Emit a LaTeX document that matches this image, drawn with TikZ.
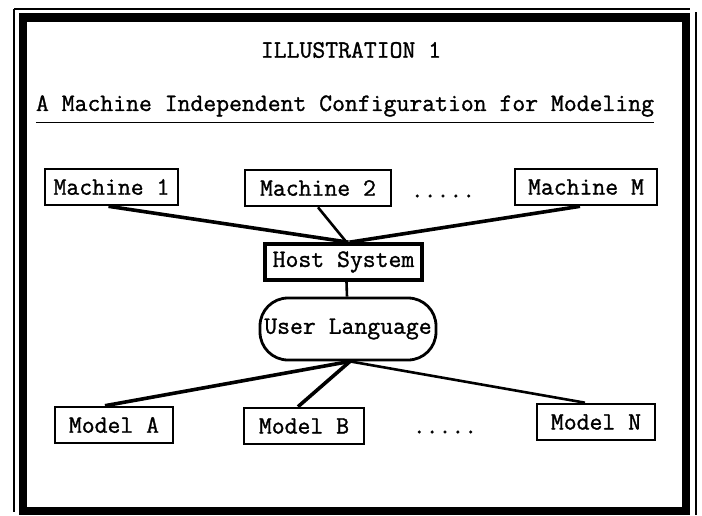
\documentclass[tikz,border=0pt]{standalone}
\usepackage{fontspec}
\newfontfamily\typew[FakeBold=1.2]{Latin Modern Mono}
\begin{document}
\begin{tikzpicture}[x=1pt,y=-1pt,
  every node/.style={font=\typew\fontsize{25}{30}\selectfont, inner sep=0pt},
  boxnode/.style={draw, line width=2.6pt, minimum height=36pt},
  link/.style={line width=3.6pt},
  thinlink/.style={line width=2.6pt}]
\useasboundingbox (0,0) rectangle (702,515);
\fill[white] (0,0) rectangle (702,515);
% frame
\draw[line width=8.5pt] (23,17.5) rectangle (686,511);
\draw[line width=1.2pt] (14,9) -- (14,512);
\draw[line width=1.2pt] (14,9) -- (690,9);
\draw[line width=1.4pt] (696,12) -- (696,515);
% titles
\node (ill) at (351,50) {ILLUSTRATION 1};
\node (title) at (345,106) {A Machine Independent Configuration for Modeling};
\draw[line width=1.2pt] ([yshift=-6pt]title.south west) -- ([yshift=-6pt]title.south east);
% machines
\node[boxnode, minimum width=133pt] (m1) at (111.5,187) {Machine 1};
\node[boxnode, minimum width=146pt] (m2) at (318,188) {Machine 2};
\node (mdots) at (443,196) {.....};
\node[boxnode, minimum width=142pt] (mM) at (586,187) {Machine M};
% host
\node[boxnode, line width=3.6pt, minimum width=157pt] (host) at (343.5,262) {Host System};
% user language
\node[draw, line width=2.8pt, rounded corners=28pt, minimum width=176pt, minimum height=62pt] (ul) at (348,329) {User Language};
% models
\node[boxnode, minimum width=118pt] (ma) at (114,425) {Model A};
\node[boxnode, minimum width=120pt] (mb) at (304,426) {Model B};
\node (ndots) at (445,432) {.....};
\node[boxnode, minimum width=118pt] (mn) at (596,422) {Model N};
% connectors
\draw[link] ([xshift=-3pt]m1.south) -- ([xshift=5pt]host.north);
\draw[thinlink] ([xshift=0pt]m2.south) -- ([xshift=3pt]host.north);
\draw[link] ([xshift=-6pt]mM.south) -- ([xshift=6pt]host.north);
\draw[thinlink] ([xshift=3pt]host.south) -- ([xshift=-1pt]ul.north);
\draw[link] ([xshift=-9pt]ma.north) -- ([xshift=2pt]ul.south);
\draw[link] ([xshift=-6pt]mb.north) -- ([xshift=2pt]ul.south);
\draw[thinlink] ([xshift=-11pt]mn.north) -- ([xshift=2pt]ul.south);
\end{tikzpicture}
\end{document}
